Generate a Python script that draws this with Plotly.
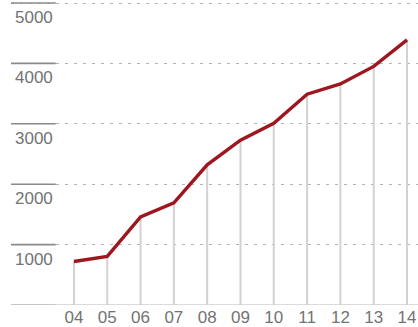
import plotly.graph_objects as go

years = [4, 5, 6, 7, 8, 9, 10, 11, 12, 13, 14]
year_labels = ["04", "05", "06", "07", "08", "09", "10", "11", "12", "13", "14"]
values = [720, 805, 1460, 1690, 2320, 2730, 3010, 3490, 3660, 3950, 4390]
y_ticks = [1000, 2000, 3000, 4000, 5000]

RED = "#9e1620"
TEXT = "#737373"

fig = go.Figure()

# vertical drop lines from each point to the baseline
drop_x, drop_y = [], []
for x, v in zip(years, values):
    drop_x += [x, x, None]
    drop_y += [0, v, None]
fig.add_trace(go.Scatter(x=drop_x, y=drop_y, mode="lines",
                         line=dict(color="#d2d2d2", width=2),
                         hoverinfo="skip", showlegend=False))

fig.add_trace(go.Scatter(x=years, y=values, mode="lines",
                         line=dict(color=RED, width=3.4),
                         showlegend=False))

shapes = []
annotations = []
for t in [0] + y_ticks:
    shapes.append(dict(type="line", xref="paper", yref="y",
                       x0=0, x1=0.11, y0=t, y1=t,
                       line=dict(color="#8a8a8a", width=1.6)))
for t in y_ticks:
    annotations.append(dict(xref="paper", yref="y", x=0.004, y=t,
                            text=str(t), showarrow=False,
                            xanchor="left", yanchor="top", yshift=-3,
                            font=dict(family="Liberation Sans", size=17, color=TEXT)))

fig.update_layout(
    width=418, height=327,
    margin=dict(l=11, r=0, t=0, b=22),
    paper_bgcolor="white", plot_bgcolor="white",
    shapes=shapes, annotations=annotations,
    xaxis=dict(range=[2.11, 14.33], tickvals=years, ticktext=year_labels,
               showgrid=False, zeroline=False, showline=False, ticks="",
               tickfont=dict(family="Liberation Sans", size=17, color=TEXT)),
    yaxis=dict(range=[0, 5050], tickvals=[0] + y_ticks, showticklabels=False,
               showgrid=True, gridcolor="#b4b4b4", gridwidth=1,
               griddash="3px,6px", zeroline=False, ticks=""),
)
# solid light baseline across the plot
fig.add_hline(y=0, line=dict(color="#cfcfcf", width=1.5))

fig.write_html("out.html")
